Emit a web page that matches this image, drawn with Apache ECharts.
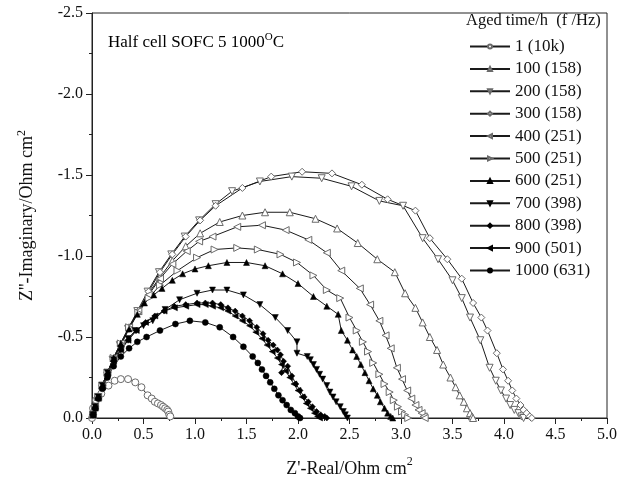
<!DOCTYPE html>
<html><head><meta charset="utf-8">
<script src="https://cdn.jsdelivr.net/npm/echarts@6/dist/echarts.min.js"></script>
<style>html,body{margin:0;padding:0;background:#fff}#c{width:631px;height:483px}</style>
</head><body><div id="c"></div>
<script>
// Nyquist data: [Z' (Ohm cm2), Z'' (Ohm cm2)]
const h1 = [[0.00,0.00],[0.01,-0.06],[0.04,-0.11],[0.09,-0.15],[0.16,-0.20],[0.22,-0.23],[0.28,-0.24],[0.35,-0.24],[0.42,-0.22],[0.48,-0.19],[0.54,-0.14],[0.58,-0.12],[0.61,-0.10],[0.64,-0.09],[0.67,-0.08],[0.69,-0.07],[0.71,-0.06],[0.73,-0.05],[0.74,-0.04],[0.75,-0.02],[0.76,-0.01]];
const h100 = [[0.01,-0.02],[0.03,-0.07],[0.06,-0.13],[0.10,-0.20],[0.15,-0.28],[0.21,-0.37],[0.28,-0.46],[0.36,-0.56],[0.45,-0.66],[0.55,-0.77],[0.66,-0.87],[0.78,-0.97],[0.91,-1.06],[1.05,-1.14],[1.24,-1.21],[1.46,-1.25],[1.68,-1.27],[1.92,-1.27],[2.17,-1.23],[2.38,-1.17],[2.58,-1.08],[2.77,-0.98],[2.94,-0.90],[3.04,-0.77],[3.14,-0.68],[3.21,-0.59],[3.28,-0.50],[3.35,-0.42],[3.41,-0.33],[3.48,-0.25],[3.53,-0.19],[3.57,-0.14],[3.61,-0.10],[3.64,-0.06],[3.67,-0.03],[3.69,-0.01],[3.70,0.00]];
const h200 = [[0.01,-0.02],[0.03,-0.07],[0.06,-0.13],[0.10,-0.20],[0.15,-0.28],[0.20,-0.36],[0.27,-0.45],[0.35,-0.55],[0.44,-0.66],[0.54,-0.78],[0.65,-0.90],[0.77,-1.01],[0.90,-1.12],[1.04,-1.22],[1.20,-1.32],[1.36,-1.40],[1.63,-1.46],[1.94,-1.49],[2.23,-1.48],[2.52,-1.43],[2.79,-1.34],[3.02,-1.31],[3.21,-1.11],[3.36,-0.98],[3.50,-0.85],[3.59,-0.74],[3.67,-0.62],[3.77,-0.48],[3.86,-0.31],[3.92,-0.23],[3.97,-0.17],[4.02,-0.12],[4.06,-0.08],[4.10,-0.05],[4.14,-0.03],[4.17,-0.01],[4.19,0.00]];
const h300 = [[0.01,-0.02],[0.03,-0.07],[0.06,-0.13],[0.10,-0.20],[0.15,-0.28],[0.21,-0.36],[0.28,-0.45],[0.36,-0.55],[0.45,-0.66],[0.55,-0.78],[0.66,-0.90],[0.78,-1.01],[0.91,-1.12],[1.05,-1.22],[1.20,-1.31],[1.46,-1.42],[1.74,-1.49],[2.04,-1.52],[2.33,-1.51],[2.62,-1.44],[2.87,-1.35],[3.14,-1.28],[3.28,-1.11],[3.45,-0.98],[3.59,-0.86],[3.70,-0.71],[3.78,-0.62],[3.84,-0.54],[3.93,-0.40],[3.99,-0.30],[4.04,-0.23],[4.08,-0.17],[4.12,-0.12],[4.16,-0.08],[4.19,-0.05],[4.22,-0.03],[4.25,-0.01],[4.27,0.00]];
const h400 = [[0.01,-0.02],[0.03,-0.07],[0.06,-0.13],[0.10,-0.20],[0.15,-0.28],[0.21,-0.37],[0.28,-0.46],[0.36,-0.56],[0.45,-0.66],[0.55,-0.76],[0.66,-0.86],[0.78,-0.95],[0.92,-1.03],[1.04,-1.09],[1.17,-1.12],[1.41,-1.18],[1.65,-1.19],[1.88,-1.16],[2.10,-1.10],[2.28,-1.02],[2.42,-0.91],[2.60,-0.80],[2.70,-0.70],[2.79,-0.60],[2.85,-0.51],[2.90,-0.43],[2.96,-0.31],[3.01,-0.24],[3.06,-0.17],[3.10,-0.12],[3.14,-0.08],[3.17,-0.05],[3.20,-0.03],[3.22,-0.01],[3.23,0.00]];
const h500 = [[0.01,-0.02],[0.03,-0.07],[0.06,-0.13],[0.10,-0.20],[0.15,-0.28],[0.21,-0.37],[0.28,-0.46],[0.36,-0.56],[0.45,-0.65],[0.55,-0.74],[0.66,-0.82],[0.83,-0.91],[1.02,-0.99],[1.19,-1.04],[1.41,-1.05],[1.61,-1.04],[1.83,-1.01],[1.99,-0.96],[2.15,-0.88],[2.28,-0.79],[2.41,-0.74],[2.50,-0.62],[2.57,-0.54],[2.63,-0.47],[2.68,-0.41],[2.73,-0.34],[2.79,-0.27],[2.84,-0.21],[2.89,-0.16],[2.93,-0.11],[2.97,-0.07],[3.01,-0.04],[3.04,-0.02],[3.07,0.00]];
const h600 = [[0.01,-0.02],[0.03,-0.07],[0.06,-0.13],[0.10,-0.20],[0.15,-0.28],[0.21,-0.37],[0.28,-0.46],[0.36,-0.55],[0.44,-0.64],[0.51,-0.71],[0.60,-0.76],[0.68,-0.80],[0.78,-0.85],[0.88,-0.89],[1.00,-0.92],[1.13,-0.94],[1.31,-0.96],[1.50,-0.96],[1.68,-0.94],[1.85,-0.89],[2.00,-0.83],[2.15,-0.75],[2.28,-0.69],[2.39,-0.64],[2.42,-0.54],[2.48,-0.48],[2.53,-0.42],[2.57,-0.38],[2.61,-0.33],[2.65,-0.28],[2.69,-0.23],[2.73,-0.18],[2.77,-0.14],[2.80,-0.10],[2.84,-0.06],[2.87,-0.03],[2.90,-0.01],[2.92,0.00]];
const h700 = [[0.01,-0.02],[0.03,-0.07],[0.06,-0.13],[0.10,-0.20],[0.15,-0.28],[0.21,-0.36],[0.28,-0.43],[0.35,-0.49],[0.42,-0.54],[0.50,-0.57],[0.59,-0.60],[0.71,-0.67],[0.85,-0.73],[1.02,-0.77],[1.17,-0.79],[1.31,-0.79],[1.47,-0.76],[1.63,-0.70],[1.78,-0.62],[1.90,-0.54],[1.99,-0.47],[1.99,-0.40],[2.09,-0.38],[2.12,-0.36],[2.15,-0.33],[2.18,-0.30],[2.21,-0.27],[2.24,-0.24],[2.28,-0.20],[2.31,-0.16],[2.34,-0.13],[2.37,-0.10],[2.41,-0.07],[2.44,-0.04],[2.46,-0.02],[2.48,0.00]];
const h800 = [[0.01,-0.02],[0.03,-0.06],[0.06,-0.12],[0.10,-0.19],[0.15,-0.27],[0.21,-0.35],[0.28,-0.42],[0.35,-0.48],[0.43,-0.54],[0.52,-0.59],[0.61,-0.63],[0.70,-0.66],[0.80,-0.69],[0.91,-0.70],[1.02,-0.71],[1.10,-0.71],[1.17,-0.71],[1.25,-0.70],[1.32,-0.68],[1.39,-0.66],[1.46,-0.63],[1.53,-0.60],[1.60,-0.56],[1.66,-0.52],[1.71,-0.48],[1.76,-0.45],[1.80,-0.42],[1.83,-0.39],[1.86,-0.35],[1.84,-0.28],[1.90,-0.32],[1.94,-0.26],[1.98,-0.21],[2.02,-0.17],[2.06,-0.13],[2.10,-0.10],[2.14,-0.07],[2.18,-0.04],[2.22,-0.02],[2.26,-0.01],[2.28,0.00]];
const h900 = [[0.01,-0.02],[0.03,-0.06],[0.06,-0.12],[0.10,-0.19],[0.15,-0.27],[0.21,-0.35],[0.28,-0.42],[0.35,-0.48],[0.43,-0.54],[0.52,-0.59],[0.61,-0.63],[0.70,-0.66],[0.80,-0.68],[0.91,-0.69],[1.02,-0.70],[1.10,-0.70],[1.17,-0.69],[1.25,-0.68],[1.32,-0.66],[1.39,-0.63],[1.46,-0.60],[1.53,-0.57],[1.59,-0.53],[1.65,-0.49],[1.70,-0.45],[1.75,-0.41],[1.80,-0.37],[1.84,-0.33],[1.88,-0.29],[1.92,-0.25],[1.96,-0.21],[2.00,-0.17],[2.04,-0.13],[2.08,-0.09],[2.12,-0.06],[2.16,-0.03],[2.19,-0.01],[2.21,0.00]];
const h1000 = [[0.01,-0.02],[0.03,-0.06],[0.06,-0.12],[0.10,-0.18],[0.15,-0.25],[0.21,-0.32],[0.28,-0.38],[0.36,-0.43],[0.44,-0.47],[0.53,-0.50],[0.66,-0.54],[0.81,-0.58],[0.95,-0.60],[1.10,-0.59],[1.24,-0.56],[1.37,-0.50],[1.47,-0.44],[1.56,-0.38],[1.61,-0.34],[1.65,-0.30],[1.69,-0.26],[1.73,-0.22],[1.77,-0.18],[1.81,-0.14],[1.85,-0.11],[1.89,-0.08],[1.93,-0.05],[1.97,-0.03],[2.00,-0.01],[2.02,0.00]];

const seriesNames = ['1 (10k)','100 (158)','200 (158)','300 (158)','400 (251)','500 (251)','600 (251)','700 (398)','800 (398)','900 (501)','1000 (631)'];
const seriesData = [h1,h100,h200,h300,h400,h500,h600,h700,h800,h900,h1000];
const symbols = ['circle','triangle','triangle','diamond','triangle','triangle','triangle','triangle','diamond','triangle','circle'];
const rotations = [0,0,180,0,90,-90,0,180,0,90,0];
const filled = [false,false,false,false,false,false,true,true,true,true,true];
const legendTitle = 'Aged time/h  (f /Hz)';

const FONT = 'Liberation Serif';
const chart = echarts.init(document.getElementById('c'), null, {renderer:'canvas'});
const series = seriesData.map((d,i)=>({
  name: seriesNames[i], type:'line', data:d,
  symbol: symbols[i], symbolRotate: rotations[i],
  symbolSize: filled[i] ? 6 : 7,
  showAllSymbol: true,
  lineStyle:{color:'#1a1a1a', width:1},
  itemStyle: filled[i] ? {color:'#000', borderColor:'#000', borderWidth:0.5}
                       : {color:'#fff', borderColor:'#6a6a6a', borderWidth:1},
  emphasis:{disabled:true}, animation:false, z: 2
}));

chart.setOption({
  backgroundColor:'#fff',
  animation:false,
  grid:{left:92, right:24, top:13, bottom:65, show:true, borderColor:'#222', borderWidth:1, backgroundColor:'transparent'},
  xAxis:{type:'value', min:0, max:5, interval:0.5,
    name:'{n|Z\'-Real/Ohm cm}{s|2}', nameLocation:'middle', nameGap:38,
    nameTextStyle:{rich:{n:{fontFamily:FONT,fontSize:18,color:'#111',verticalAlign:'bottom'},s:{fontFamily:FONT,fontSize:12,color:'#111',verticalAlign:'top',padding:[0,0,10,0]}}},
    axisLine:{lineStyle:{color:'#222',width:1}},
    axisTick:{show:true,length:6,lineStyle:{color:'#222'}},
    minorTick:{show:true,splitNumber:2,length:3,lineStyle:{color:'#222'}},
    splitLine:{show:false},
    axisLabel:{fontFamily:FONT,fontSize:16,color:'#111',margin:9,formatter:v=>v.toFixed(1)}
  },
  yAxis:{type:'value', min:-2.5, max:0, interval:0.5, inverse:true,
    name:'{n|Z\'\'-Imaginary/Ohm cm}{s|2}', nameLocation:'middle', nameGap:54, nameRotate:90,
    nameTextStyle:{rich:{n:{fontFamily:FONT,fontSize:18,color:'#111'},s:{fontFamily:FONT,fontSize:12,color:'#111',padding:[0,0,10,0]}}},
    axisLine:{lineStyle:{color:'#222',width:1}},
    axisTick:{show:true,length:6,lineStyle:{color:'#222'}},
    minorTick:{show:true,splitNumber:2,length:3,lineStyle:{color:'#222'}},
    splitLine:{show:false},
    axisLabel:{fontFamily:FONT,fontSize:16,color:'#111',margin:9,formatter:v=>Math.abs(v)<1e-9?'0.0':v.toFixed(1)}
  },
  legend:{show:true, orient:'vertical', left:464, top:33, itemWidth:40, itemHeight:5, itemGap:5.4,
    data:seriesNames, selectedMode:false,
    textStyle:{fontFamily:FONT,fontSize:17,color:'#111',lineHeight:17}},
  graphic:[
    {type:'text', left:466, top:12, style:{text:legendTitle, font:'16.5px "Liberation Serif"', fill:'#111'}},
    {type:'text', left:108, top:32, style:{text:'{n|Half cell SOFC 5 1000}{s|O}{n|C}',
      rich:{n:{fontFamily:FONT,fontSize:17,color:'#111'},s:{fontFamily:FONT,fontSize:11,color:'#111',padding:[0,0,10,0]}}}}
  ],
  series: series
});
</script></body></html>
